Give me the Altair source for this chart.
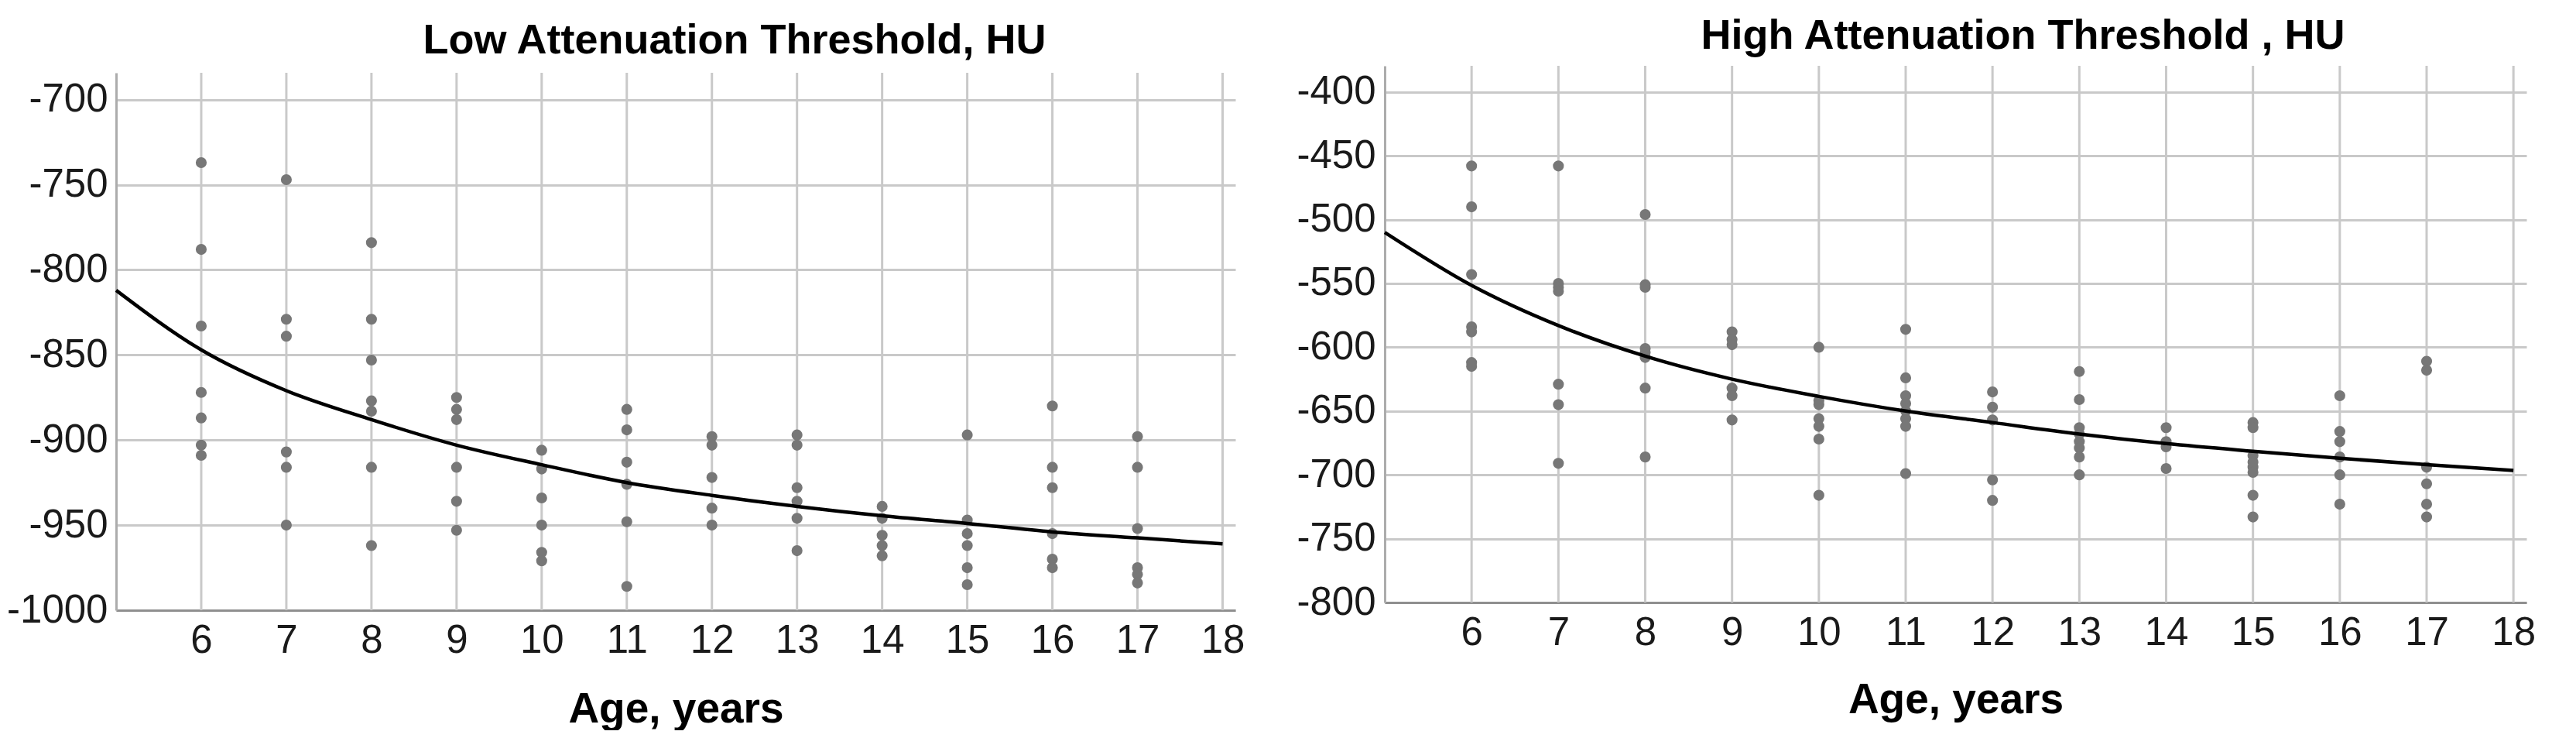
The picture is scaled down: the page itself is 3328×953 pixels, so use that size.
import altair as alt
import pandas as pd

# ---------------- data ----------------
low_ages = ([6] * 7 + [7] * 6 + [8] * 7 + [9] * 6 + [10] * 6 + [11] * 6 +
            [12] * 5 + [13] * 6 + [14] * 5 + [15] * 6 + [16] * 6 + [17] * 6)
low_vals = [-737, -788, -833, -872, -887, -903, -909,
            -747, -829, -839, -907, -916, -950,
            -784, -829, -853, -877, -883, -916, -962,
            -875, -882, -888, -916, -936, -953,
            -906, -917, -934, -950, -966, -971,
            -882, -894, -913, -926, -948, -986,
            -898, -903, -922, -940, -950,
            -897, -903, -928, -936, -946, -965,
            -939, -946, -956, -962, -968,
            -897, -947, -955, -962, -975, -985,
            -880, -916, -928, -955, -970, -975,
            -898, -916, -952, -975, -979, -984]

high_ages = ([6] * 7 + [7] * 7 + [8] * 8 + [9] * 6 + [10] * 7 + [11] * 8 +
             [12] * 5 + [13] * 8 + [14] * 4 + [15] * 8 + [16] * 6 + [17] * 6)
high_vals = [-458, -490, -543, -584, -588, -612, -615,
             -458, -550, -553, -556, -629, -645, -691,
             -496, -551, -553, -601, -604, -608, -632, -686,
             -588, -594, -598, -632, -638, -657,
             -600, -642, -645, -656, -662, -672, -716,
             -586, -624, -638, -644, -650, -656, -662, -699,
             -635, -647, -657, -704, -720,
             -619, -641, -663, -668, -674, -679, -686, -700,
             -663, -674, -678, -695,
             -659, -663, -685, -690, -694, -698, -716, -733,
             -638, -666, -674, -686, -700, -723,
             -611, -618, -694, -707, -723, -733]

fit_ages = [5, 6, 7, 8, 9, 10, 11, 12, 13, 14, 15, 16, 17, 18]
low_fit = [-812, -847, -871, -888, -903, -914.5, -925, -932.5, -939, -944.5,
           -949, -954, -957.5, -961]
high_fit = [-510, -551.5, -583, -607, -625, -638.5, -650, -659, -668, -675.5,
            -681.5, -687, -692, -696.5]

x_ticks = [6, 7, 8, 9, 10, 11, 12, 13, 14, 15, 16, 17, 18]
low_y_ticks = [-1000, -950, -900, -850, -800, -750, -700]
high_y_ticks = [-800, -750, -700, -650, -600, -550, -500, -450, -400]

low_title = "Low Attenuation Threshold, HU"
high_title = "High Attenuation Threshold , HU"
x_title = "Age, years"

FONT = "Liberation Sans, Arial, Helvetica, sans-serif"
X_DOMAIN = [5, 18.15]
GRID = "#c9c9c9"


def panel(ages, vals, fit_vals, y_domain, y_ticks, title, title_dx, title_off,
          width, height, y_range=None, label_pad=11, xtitle_pad=35):
    pts = pd.DataFrame({"age": ages, "value": vals})
    fit = pd.DataFrame({"age": fit_ages, "value": fit_vals})
    grid = pd.DataFrame({"age": x_ticks})

    xscale = alt.Scale(domain=X_DOMAIN, nice=False, zero=False)
    ykw = dict(domain=y_domain, nice=False, zero=False)
    if y_range is not None:
        ykw["range"] = y_range
    yscale = alt.Scale(**ykw)

    xaxis = alt.Axis(values=x_ticks, title=x_title, grid=False, ticks=False,
                     labelPadding=14, titlePadding=xtitle_pad, labelFont=FONT,
                     labelFontSize=51, labelColor="#1a1a1a", titleFont=FONT,
                     titleFontSize=55, titleFontWeight="bold", titleColor="#000000",
                     domainColor="#8f8f8f", domainWidth=3, labelFlush=False,
                     labelOverlap=False, labelExpr="datum.value + ''")
    yaxis = alt.Axis(values=y_ticks, title=None, grid=True, ticks=False,
                     labelPadding=label_pad, labelFont=FONT, labelFontSize=51,
                     labelColor="#1a1a1a", gridColor=GRID, gridWidth=3,
                     domainColor="#acacac", domainWidth=3, labelOverlap=False,
                     labelFlush=False, labelExpr="datum.value + ''")

    vgrid = alt.Chart(grid).mark_rule(color=GRID, strokeWidth=3).encode(
        x=alt.X("age:Q", scale=xscale, axis=xaxis),
        y=alt.Y(datum=y_domain[1], scale=yscale, axis=yaxis),
        y2=alt.Y2(datum=y_domain[0]),
    )
    dots = alt.Chart(pts).mark_circle(size=200, color="#777777", opacity=1).encode(
        x=alt.X("age:Q", scale=xscale, axis=xaxis),
        y=alt.Y("value:Q", scale=yscale, axis=yaxis),
    )
    line = alt.Chart(fit).mark_line(color="#000000", strokeWidth=4.5,
                                     interpolate="monotone").encode(
        x=alt.X("age:Q", scale=xscale, axis=xaxis),
        y=alt.Y("value:Q", scale=yscale, axis=yaxis),
    )
    return alt.layer(vgrid, dots, line).properties(
        width=width, height=height,
        title=alt.TitleParams(text=title, font=FONT, fontSize=54, fontWeight="bold",
                              color="#000000", anchor="middle", dx=title_dx,
                              offset=title_off, baseline="alphabetic"),
    )


left = panel(low_ages, low_vals, low_fit, [-1000, -684.2], low_y_ticks, low_title,
             76, -38, 1446, 703, y_range=[703, 9], label_pad=11, xtitle_pad=37)
right = panel(high_ages, high_vals, high_fit, [-800, -379.5], high_y_ticks, high_title,
              87, -33, 1475, 693, label_pad=12, xtitle_pad=35)

chart = alt.hconcat(left, right, spacing=193, bounds="flush").properties(
    padding={"left": 0, "top": 11, "right": 0, "bottom": 0},
    background="white",
).configure_view(stroke=None)

chart.save("out.html", embed_options={"renderer": "svg", "actions": False})
